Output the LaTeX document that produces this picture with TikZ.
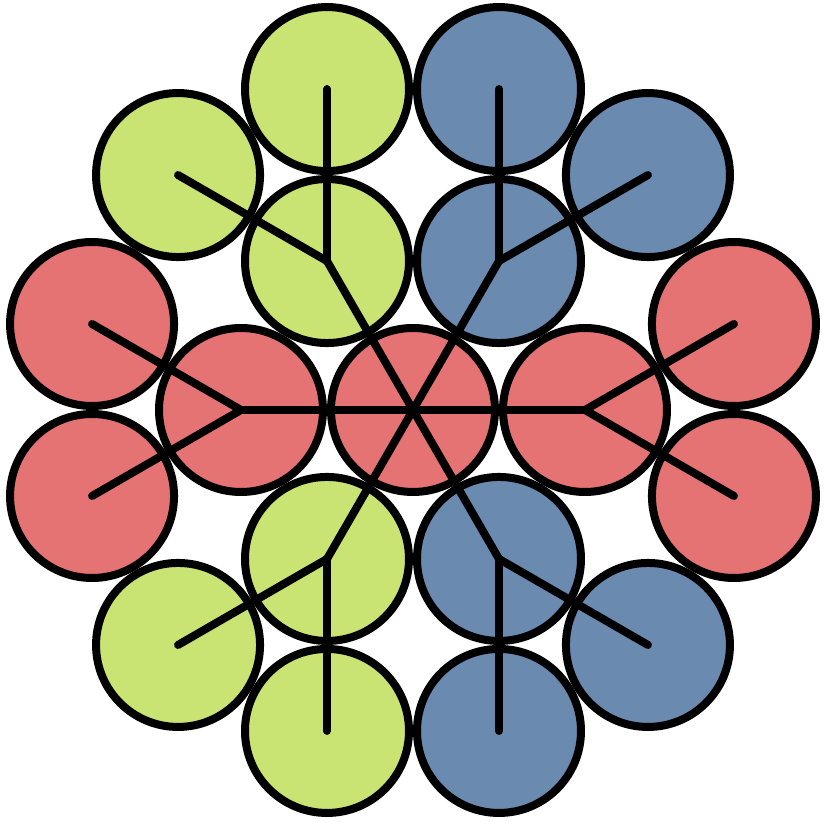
\documentclass[tikz,border=0pt]{standalone}
\usepackage{xcolor}
\usepackage{tikz}
\definecolor{petalred}{HTML}{E57373}
\definecolor{petalgreen}{HTML}{C9E473}
\definecolor{petalblue}{HTML}{6A8AB0}

\begin{document}
\begin{tikzpicture}[
  disc/.style={draw, circle, line width=2mm, minimum size=4.1cm, inner sep=0pt},
  rd/.style={disc, fill=petalred},
  gr/.style={disc, fill=petalgreen},
  bl/.style={disc, fill=petalblue},
  ln/.style={line width=2mm, line cap=round}]

\useasboundingbox (-10.325,-10.3) rectangle (10.3,10.25);

\node[rd] (c) at (0,0) {};
\node[rd] (l) at (180:4.3) {};
\node[rd] (r) at (0:4.3) {};
\node[gr] (ul) at (120:4.3) {};
\node[bl] (ur) at (60:4.3) {};
\node[gr] (dl) at (240:4.3) {};
\node[bl] (dr) at (300:4.3) {};

\node[rd] (l1) at ([shift={(150:4.3)}]l) {};
\node[rd] (l2) at ([shift={(210:4.3)}]l) {};
\node[rd] (r1) at ([shift={(30:4.3)}]r) {};
\node[rd] (r2) at ([shift={(-30:4.3)}]r) {};
\node[gr] (ul1) at ([shift={(90:4.3)}]ul) {};
\node[gr] (ul2) at ([shift={(150:4.3)}]ul) {};
\node[bl] (ur1) at ([shift={(90:4.3)}]ur) {};
\node[bl] (ur2) at ([shift={(30:4.3)}]ur) {};
\node[gr] (dl1) at ([shift={(270:4.3)}]dl) {};
\node[gr] (dl2) at ([shift={(210:4.3)}]dl) {};
\node[bl] (dr1) at ([shift={(270:4.3)}]dr) {};
\node[bl] (dr2) at ([shift={(330:4.3)}]dr) {};

\draw[ln] (c.center) -- (l.center);
\draw[ln] (c.center) -- (r.center);
\draw[ln] (c.center) -- (ul.center);
\draw[ln] (c.center) -- (ur.center);
\draw[ln] (c.center) -- (dl.center);
\draw[ln] (c.center) -- (dr.center);
\draw[ln] (l.center) -- (l1.center);
\draw[ln] (l.center) -- (l2.center);
\draw[ln] (r.center) -- (r1.center);
\draw[ln] (r.center) -- (r2.center);
\draw[ln] (ul.center) -- (ul1.center);
\draw[ln] (ul.center) -- (ul2.center);
\draw[ln] (ur.center) -- (ur1.center);
\draw[ln] (ur.center) -- (ur2.center);
\draw[ln] (dl.center) -- (dl1.center);
\draw[ln] (dl.center) -- (dl2.center);
\draw[ln] (dr.center) -- (dr1.center);
\draw[ln] (dr.center) -- (dr2.center);
\end{tikzpicture}
\end{document}
